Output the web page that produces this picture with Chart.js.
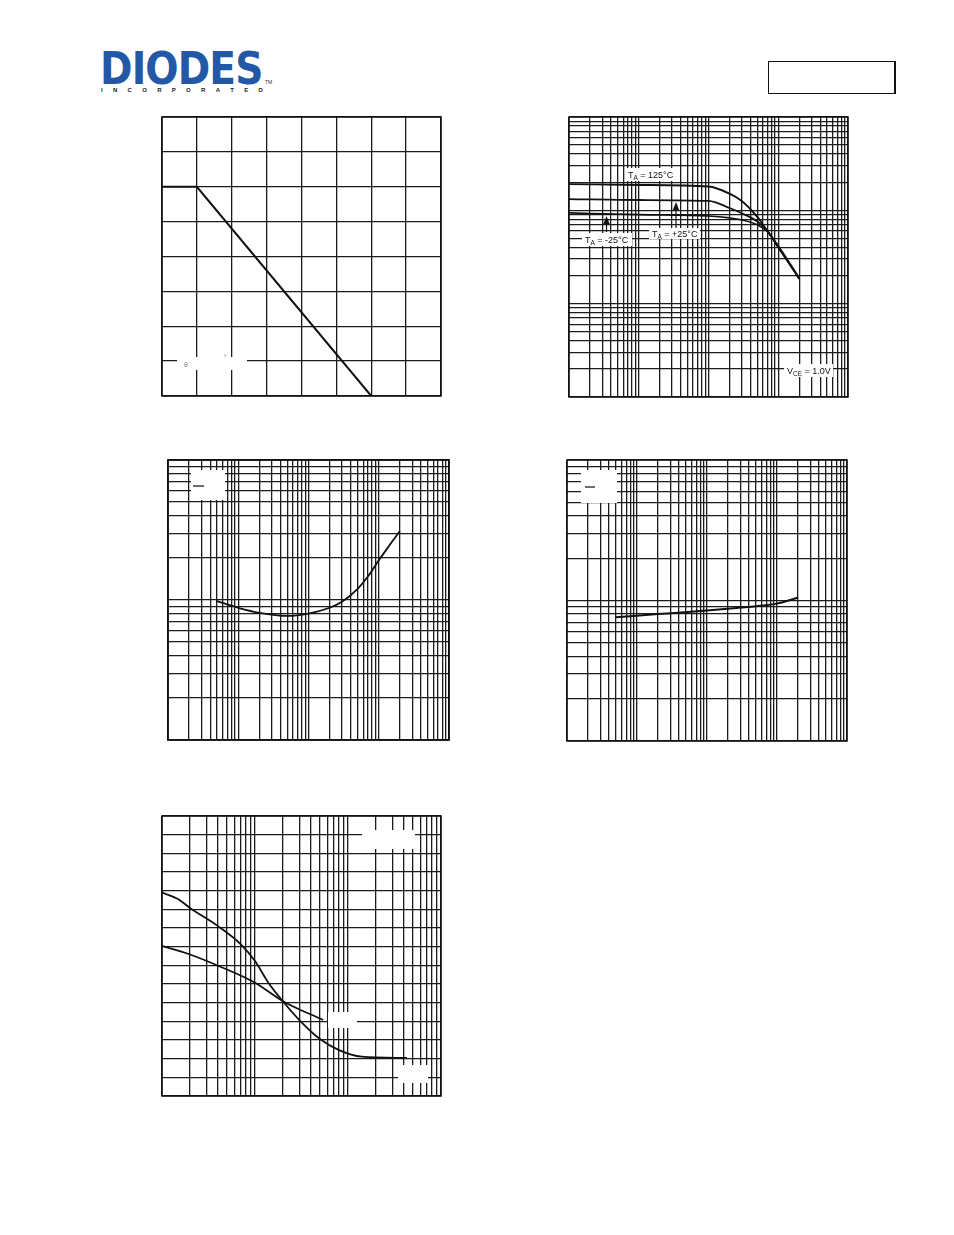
<!DOCTYPE html>
<html>
<head>
<meta charset="utf-8">
<title>Typical characteristics</title>
<script src="https://cdn.jsdelivr.net/npm/chart.js@4.4.0/dist/chart.umd.min.js"></script>
<style>
  html, body { margin: 0; padding: 0; background: #fff; }
  body { width: 954px; height: 1235px; position: relative; overflow: hidden; font-family: "Liberation Sans", Arial, sans-serif; }
  canvas { position: absolute; }
  .logo { position: absolute; left: 100px; top: 46px; color: #2358a6; font-family: "DejaVu Sans", sans-serif; font-weight: bold;
          font-size: 45px; line-height: 1; letter-spacing: -1px; transform: scaleX(0.87); transform-origin: left top; white-space: nowrap; }
  .inc { position: absolute; left: 101px; top: 87px; width: 162px; display: flex; justify-content: space-between;
         font-size: 6px; font-weight: bold; color: #222; }
  .tm { position: absolute; left: 265px; top: 79px; font-size: 5px; color: #333; }
  .partbox { position: absolute; left: 768px; top: 61px; width: 128px; height: 33px; box-sizing: border-box;
             border: 1px solid #111; border-right-width: 2px; }
</style>
</head>
<body>
<div class="logo">DIODES</div>
<div class="inc"><span>I</span><span>N</span><span>C</span><span>O</span><span>R</span><span>P</span><span>O</span><span>R</span><span>A</span><span>T</span><span>E</span><span>D</span></div>
<div class="tm">TM</div>
<div class="partbox"></div>

<canvas id="c1"></canvas>
<canvas id="c2"></canvas>
<canvas id="c3"></canvas>
<canvas id="c4"></canvas>
<canvas id="c5"></canvas>

<script>
// === 1. DATA ===
// power derating: temperature (°C) vs power (mW)
const derateTemp = [0, 25, 150];
const derateMW   = [300, 300, 0];

// DC current gain vs collector current (mA), VCE = 1.0V
const gainIc   = [0.1, 1, 10, 20, 30, 50, 70, 100, 200];
const gain125  = [191, 187, 180, 151, 126, 85, 60, 41.5, 18.8];
const gain25   = [132, 129, 126, 106, 93, 76, 60, 40.4, 18.6];
const gainM25  = [94, 90, 87, 83, 79, 70, 59, 40, 18.4];

// VCE(sat) vs IC
const satIc = [0.5, 1, 2, 5, 10, 20, 30, 50, 70, 100, 150, 200];
const satV  = [0.098, 0.088, 0.081, 0.077, 0.080, 0.088, 0.097, 0.120, 0.147, 0.192, 0.255, 0.311];

// VBE(sat) vs IC
const vbeIc = [0.5, 2, 10, 30, 50, 100, 200];
const vbeV  = [0.76, 0.80, 0.85, 0.89, 0.91, 0.95, 1.05];

// capacitance vs voltage, two curves
const capAV = [0.1, 0.15, 0.2, 0.4, 0.7, 1, 1.4, 2, 3, 5, 8, 14, 43];
const capA  = [10.9, 10.54, 10.07, 9.1, 8.14, 7.23, 6.05, 5.06, 4.07, 3.05, 2.46, 2.11, 2.04];
const capBV = [0.1, 0.2, 0.4, 1, 2, 5.4];
const capB  = [8.04, 7.58, 6.98, 6.07, 5.08, 4.07];

// axis ranges
const derateX = [0, 200, 25];
const derateY = [0, 400, 50];
const icRange4 = [0.1, 1000];
const gainRange = [1, 1000];
const satRange = [0.01, 1];
const vbeRange = [0.1, 10];
const capX = [0.1, 100];
const capY = [0, 15, 1];

// === 2. LAYOUT ===
const PAD = 6;
const INK = '#111';
const GRID = '#1c1c1c';
const FONT = '"Liberation Sans", Arial, sans-serif';
// plot boxes on the page: x, y, w, h
const boxes = {
  c1: [162, 117, 279, 279],
  c2: [569, 117, 279, 280],
  c3: [168, 460, 281, 280],
  c4: [567, 460, 280, 281],
  c5: [162, 816, 279, 280]
};

function decadeTicks(min, max) {
  const out = [];
  for (let e = Math.floor(Math.log10(min)); e <= Math.ceil(Math.log10(max)); e++) {
    for (let m = 1; m < 10; m++) {
      const v = +(m * Math.pow(10, e)).toPrecision(6);
      if (v >= min * 0.999 && v <= max * 1.001) out.push(v);
    }
  }
  return out;
}

function logAxis(range) {
  return {
    type: 'logarithmic', min: range[0], max: range[1],
    afterBuildTicks: ax => { ax.ticks = decadeTicks(range[0], range[1]).map(v => ({ value: v })); },
    ticks: { display: false },
    grid: { color: GRID, lineWidth: 1.3, drawTicks: false },
    border: { display: false }
  };
}
function linAxis(range) {
  return {
    type: 'linear', min: range[0], max: range[1],
    ticks: { display: false, stepSize: range[2] },
    grid: { color: GRID, lineWidth: 1.3, drawTicks: false },
    border: { display: false }
  };
}
function series(xs, ys, w) {
  return {
    data: xs.map((x, i) => ({ x: x, y: ys[i] })),
    borderColor: INK, borderWidth: w || 1.8, pointRadius: 0, fill: false,
    cubicInterpolationMode: 'monotone'
  };
}

function subText(ctx, x, y, main, sub, rest) {
  ctx.fillStyle = '#111';
  ctx.font = '9px ' + FONT;
  ctx.fillText(main, x, y);
  let w = ctx.measureText(main).width;
  ctx.font = '6.5px ' + FONT;
  ctx.fillText(sub, x + w, y + 2.5);
  w += ctx.measureText(sub).width;
  ctx.font = '9px ' + FONT;
  ctx.fillText(rest, x + w, y);
}

// page furniture per chart: blank patches, label texts, arrows (page coords)
function makeSheet(id, cfg) {
  const ox = boxes[id][0] - PAD, oy = boxes[id][1] - PAD;
  return {
    id: 'sheet',
    beforeDatasetsDraw(chart) {
      const ctx = chart.ctx;
      ctx.save();
      ctx.fillStyle = '#fff';
      (cfg.blanks || []).forEach(b => ctx.fillRect(b[0] - ox, b[1] - oy, b[2] - b[0], b[3] - b[1]));
      ctx.strokeStyle = GRID; ctx.lineWidth = 1.3;
      (cfg.dashes || []).forEach(d => {
        ctx.beginPath(); ctx.moveTo(d[0] - ox, d[2] - oy); ctx.lineTo(d[1] - ox, d[2] - oy); ctx.stroke();
      });
      ctx.fillStyle = '#777';
      ctx.font = '7px ' + FONT;
      (cfg.marks || []).forEach(m => ctx.fillText(m[2], m[0] - ox, m[1] - oy));
      ctx.restore();
    },
    afterDraw(chart) {
      const ctx = chart.ctx, a = chart.chartArea;
      ctx.save();
      ctx.strokeStyle = INK; ctx.lineWidth = cfg.frame || 1.5;
      ctx.strokeRect(a.left, a.top, a.right - a.left, a.bottom - a.top);
      (cfg.labels || []).forEach(l => {
        ctx.fillStyle = '#fff';
        ctx.fillRect(l.bg[0] - ox, l.bg[1] - oy, l.bg[2], l.bg[3]);
        subText(ctx, l.x - ox, l.y - oy, l.t[0], l.t[1], l.t[2]);
      });
      (cfg.arrows || []).forEach(r => {
        const x = r[0] - ox, tip = r[1] - oy, tail = r[2] - oy;
        ctx.strokeStyle = INK; ctx.fillStyle = INK; ctx.lineWidth = 1.2;
        ctx.beginPath(); ctx.moveTo(x, tail); ctx.lineTo(x, tip + 6); ctx.stroke();
        ctx.beginPath(); ctx.moveTo(x, tip); ctx.lineTo(x - 3.2, tip + 8); ctx.lineTo(x + 3.2, tip + 8); ctx.closePath(); ctx.fill();
      });
      ctx.restore();
    }
  };
}

function build(id, scales, datasets, cfg) {
  const b = boxes[id];
  const cv = document.getElementById(id);
  cv.width = b[2] + PAD * 2;
  cv.height = b[3] + PAD * 2;
  cv.style.left = (b[0] - PAD) + 'px';
  cv.style.top = (b[1] - PAD) + 'px';
  return new Chart(cv.getContext('2d'), {
    type: 'line',
    data: { datasets: datasets },
    options: {
      responsive: false, animation: false, events: [],
      devicePixelRatio: 1,
      layout: { padding: PAD },
      plugins: { legend: { display: false }, tooltip: { enabled: false } },
      scales: scales
    },
    plugins: [makeSheet(id, cfg)]
  });
}

// === 3. CHARTS ===
window.onload = () => {
  build('c1', { x: linAxis(derateX), y: linAxis(derateY) },
    [Object.assign(series(derateTemp, derateMW, 2), { cubicInterpolationMode: 'default', tension: 0 })],
    { blanks: [[177, 357, 247, 370]], marks: [[184, 367, '\u03b8'], [224, 360, '\u00b0']] });

  build('c2', { x: logAxis(icRange4), y: logAxis(gainRange) },
    [series(gainIc, gain125, 1.9), series(gainIc, gain25, 1.8), series(gainIc, gainM25, 1.6)],
    {
      labels: [
        { bg: [625, 168, 53, 13], x: 628, y: 177.5, t: ['T', 'A', ' = 125\u00b0C'] },
        { bg: [582, 233, 50, 13], x: 585, y: 242.5, t: ['T', 'A', ' = -25\u00b0C'] },
        { bg: [649, 228, 51, 11], x: 652, y: 236.5, t: ['T', 'A', ' = +25\u00b0C'] },
        { bg: [784, 364, 49, 13], x: 787, y: 373.5, t: ['V', 'CE', ' = 1.0V'] }
      ],
      arrows: [[606.5, 216, 232], [676, 202, 228]]
    });

  build('c3', { x: logAxis(icRange4), y: logAxis(satRange) },
    [series(satIc, satV, 1.8)],
    { blanks: [[191, 470, 225, 500]], dashes: [[193, 204, 486]], frame: 1.8 });

  build('c4', { x: logAxis(icRange4), y: logAxis(vbeRange) },
    [series(vbeIc, vbeV, 2)],
    { blanks: [[581, 470, 617, 503]], dashes: [[585, 595, 487]] });

  build('c5', { x: logAxis(capX), y: linAxis(capY) },
    [series(capAV, capA, 1.8), series(capBV, capB, 1.8)],
    { blanks: [[362, 830, 415, 849], [328, 1012, 357, 1028], [398, 1065, 428, 1083]] });
};
</script>
</body>
</html>
